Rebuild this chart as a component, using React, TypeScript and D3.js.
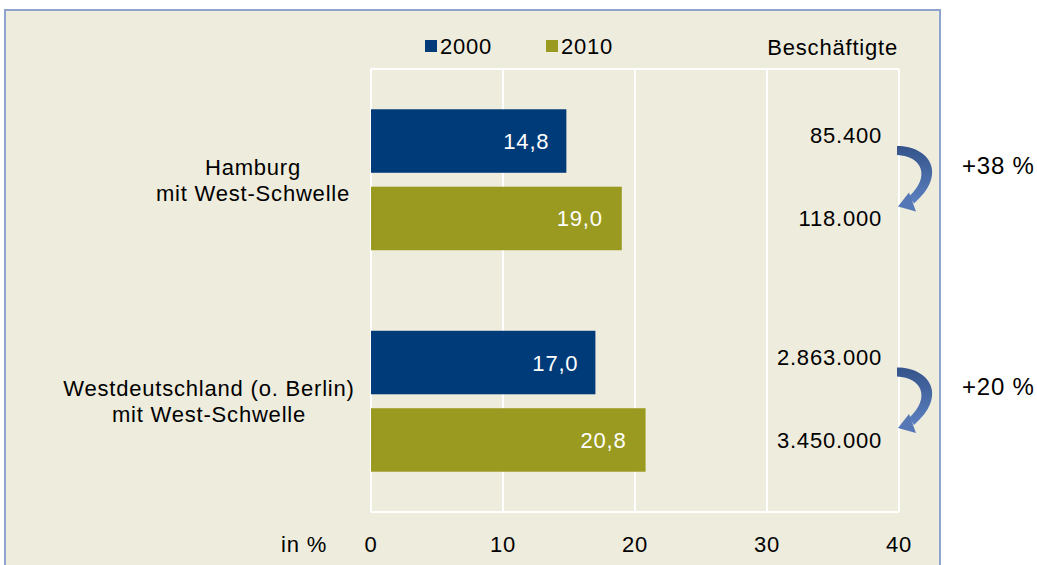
import React from "react";
import * as d3 from "d3";

const categories = ["Hamburg|mit West-Schwelle", "Westdeutschland (o. Berlin)|mit West-Schwelle"];
const seriesNames = ["2000", "2010"];
const values2000 = [14.8, 17.0];
const values2010 = [19.0, 20.8];
const employees2000 = ["85.400", "2.863.000"];
const employees2010 = ["118.000", "3.450.000"];
const changes = ["+38 %", "+20 %"];
const xTicks = [0, 10, 20, 30, 40];

const W = 1037, H = 565;
const FONT = "'Liberation Sans', Arial, sans-serif";
const C2000 = "#003b79";
const C2010 = "#9a9a21";
const BG = "#eeecdd";
const LS = 0.8;

export default function App() {
  const x = d3.scaleLinear().domain([0, 40]).range([371, 899]);
  const y = d3.scaleBand().domain(categories).range([69, 512]);
  const inner = d3.scaleBand().domain(seriesNames).range([0, y.bandwidth()]).paddingInner(0.18).paddingOuter(0.52);
  const fmt = (v: number) => v.toFixed(1).replace(".", ",");
  const labelCx = [253, 209];

  const arrowBody = (yTop: number, yTip: number) => {
    const p = d3.path();
    p.moveTo(897, yTop);
    p.bezierCurveTo(930, yTop, 948, yTip - 32, 914, yTip - 3);
    p.lineTo(909, yTip - 10);
    p.bezierCurveTo(931, yTip - 30, 922, yTop + 10, 897, yTop + 9);
    p.closePath();
    return p.toString();
  };
  const arrowHead = (yTip: number) => `M898,${yTip} L909,${yTip - 14} L916,${yTip + 5} Z`;

  return (
    <svg width={W} height={H} style={{ position: "absolute", left: 0, top: 0 }} fontFamily={FONT} letterSpacing={LS}>
      <defs>
        <linearGradient id="ag" x1="0" y1="0" x2="0" y2="1">
          <stop offset="0" stopColor="#34538a" />
          <stop offset="1" stopColor="#5b80c0" />
        </linearGradient>
      </defs>
      <rect x={0} y={0} width={W} height={H} fill="#fff" />
      <rect x={5} y={10} width={935} height={570} fill={BG} stroke="#8ea3cd" strokeWidth={2} />
      {xTicks.map((t) => (
        <line key={t} x1={x(t)} x2={x(t)} y1={69} y2={512} stroke="#fff" strokeWidth={2} />
      ))}
      <line x1={x(0)} x2={x(40)} y1={69} y2={69} stroke="#fff" strokeWidth={2} />
      <line x1={x(0)} x2={x(40)} y1={512} y2={512} stroke="#fff" strokeWidth={2} />
      {categories.map((c, i) => {
        const y0 = y(c)!;
        const b1 = y0 + inner("2000")!;
        const b2 = y0 + inner("2010")!;
        const bh = inner.bandwidth();
        const c1 = b1 + bh / 2;
        const c2 = b2 + bh / 2;
        const lines = c.split("|");
        const cy = y0 + y.bandwidth() / 2;
        return (
          <g key={c}>
            <rect x={x(0)} y={b1} width={x(values2000[i]) - x(0)} height={bh} fill={C2000} />
            <rect x={x(0)} y={b2} width={x(values2010[i]) - x(0)} height={bh} fill={C2010} />
            <text x={x(values2000[i]) - 17} y={c1 + 8} fill="#fff" fontSize={22} textAnchor="end">{fmt(values2000[i])}</text>
            <text x={x(values2010[i]) - 19} y={c2 + 8} fill="#fff" fontSize={22} textAnchor="end">{fmt(values2010[i])}</text>
            {lines.map((l, k) => (
              <text key={k} x={labelCx[i]} y={cy - 5 + k * 26} fontSize={22} textAnchor="middle" fill="#000">{l}</text>
            ))}
            <text x={882} y={c1 + 2} fontSize={22} textAnchor="end" fill="#000">{employees2000[i]}</text>
            <text x={882} y={c2 + 8} fontSize={22} textAnchor="end" fill="#000">{employees2010[i]}</text>
            <path d={arrowBody(c1 + 5, c2 - 12)} fill="url(#ag)" />
            <path d={arrowHead(c2 - 12)} fill="#5577b6" />
            <text x={962} y={cy - 6} fontSize={24} fill="#000">{changes[i]}</text>
          </g>
        );
      })}
      {xTicks.map((t) => (
        <text key={t} x={x(t)} y={552} fontSize={22} textAnchor="middle" fill="#000">{t}</text>
      ))}
      <text x={327} y={552} fontSize={22} textAnchor="end" fill="#000">in %</text>
      <rect x={425} y={40} width={12} height={12} fill={C2000} />
      <text x={440} y={54} fontSize={22} fill="#000">{seriesNames[0]}</text>
      <rect x={546} y={40} width={12} height={12} fill={C2010} />
      <text x={561} y={54} fontSize={22} fill="#000">{seriesNames[1]}</text>
      <text x={898} y={55} fontSize={22} textAnchor="end" fill="#000">Beschäftigte</text>
    </svg>
  );
}
